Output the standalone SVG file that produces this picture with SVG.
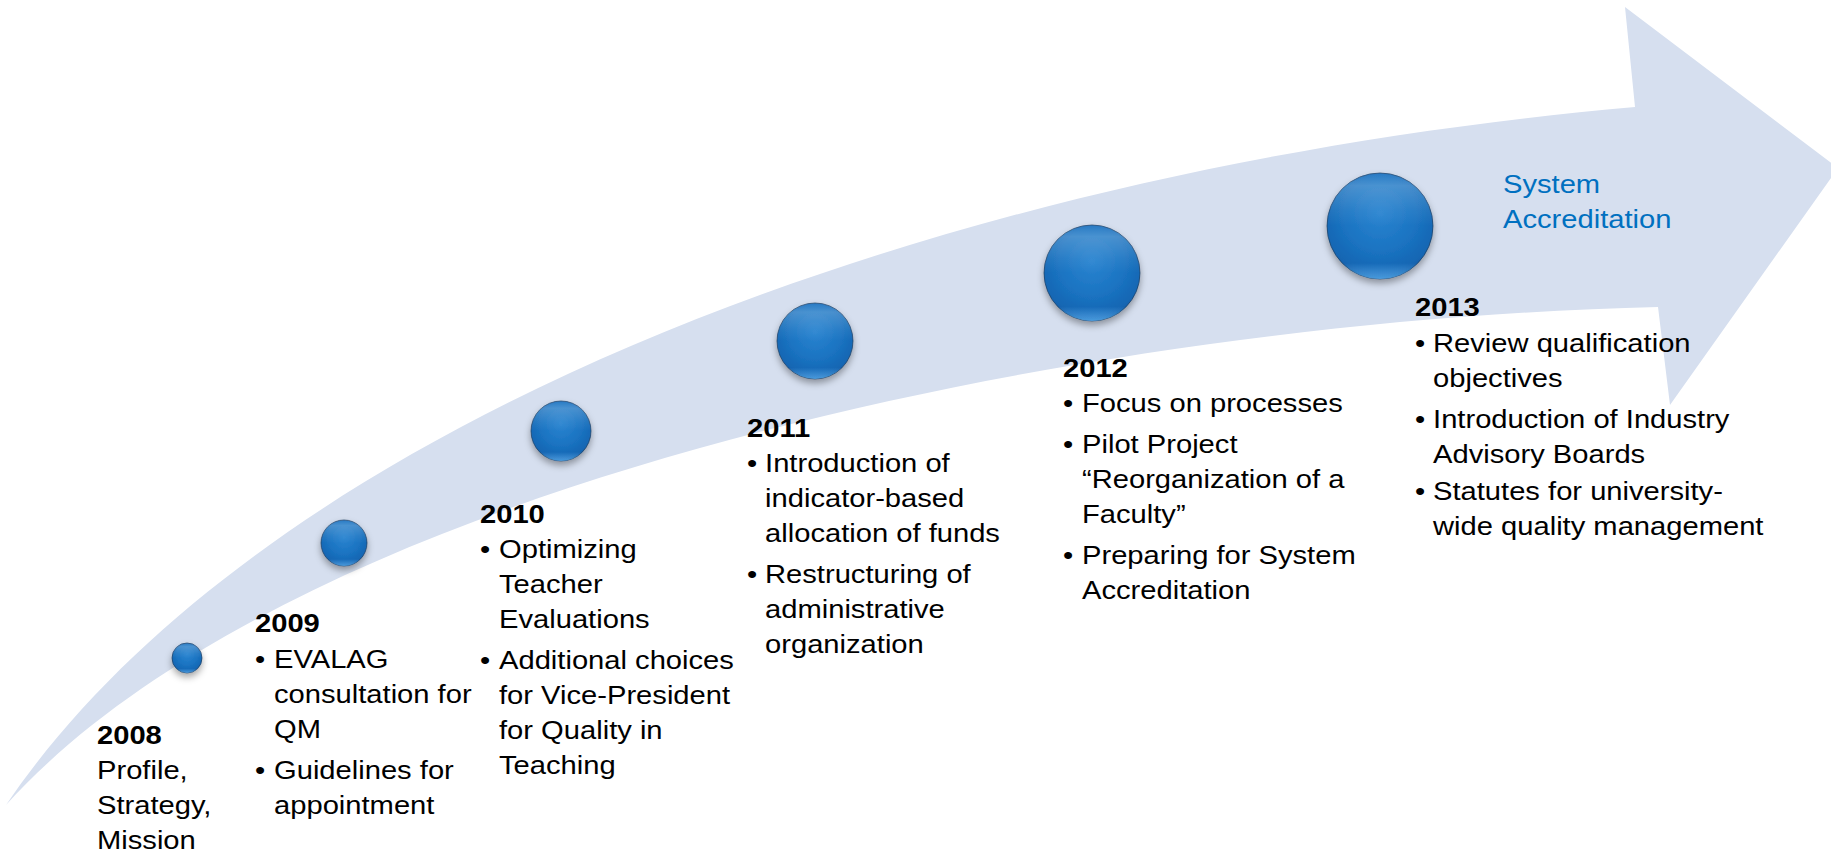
<svg xmlns="http://www.w3.org/2000/svg" width="1831" height="853" viewBox="0 0 1831 853">
<defs>
<radialGradient id="ball" cx="50%" cy="38%" r="62%">
<stop offset="0" stop-color="#2a84d0"/>
<stop offset="0.55" stop-color="#1b74c2"/>
<stop offset="0.9" stop-color="#1466b3"/>
<stop offset="1" stop-color="#0f5ea6"/>
</radialGradient>
<linearGradient id="gloss" x1="0" y1="0" x2="0" y2="1">
<stop offset="0" stop-color="#ffffff" stop-opacity="0.05"/>
<stop offset="0.12" stop-color="#ffffff" stop-opacity="0.2"/>
<stop offset="0.35" stop-color="#ffffff" stop-opacity="0.06"/>
<stop offset="0.5" stop-color="#ffffff" stop-opacity="0"/>
<stop offset="0.85" stop-color="#5fb0f0" stop-opacity="0"/>
<stop offset="1" stop-color="#5fb0f0" stop-opacity="0.75"/>
</linearGradient>
<filter id="sh" x="-40%" y="-40%" width="180%" height="190%">
<feDropShadow dx="0" dy="4" stdDeviation="3.5" flood-color="#000" flood-opacity="0.35"/>
</filter>
</defs>
<style>
.t{font-family:"Liberation Sans",Arial,sans-serif;font-size:26.5px;fill:#000}
.y{font-weight:bold}
.blue{fill:#0070c0}
.ball{fill:url(#ball);stroke:#1c3c60;stroke-opacity:0.7;stroke-width:1;filter:url(#sh)}
.gl{fill:url(#gloss)}
</style>
<rect width="1831" height="853" fill="#ffffff"/>
<g id="arrow">
<path d="M 6 805 C 260 430 920 170 1635 107 L 1625 7 L 1838 168 L 1670 405 L 1658 307 C 1100 320 300 480 6 805 Z" fill="#d6dfef"/>
</g>
<g id="connectors"></g>
<g id="n2008">
<circle class="ball" cx="187" cy="658" r="15"/>
<circle class="gl" cx="187" cy="658" r="15"/>
<g transform="translate(97,0) scale(1.1,1)">
<text class="t y" x="0" y="744">2008</text>
<text class="t" x="0" y="779">Profile,</text>
<text class="t" x="0" y="814">Strategy,</text>
<text class="t" x="0" y="849">Mission</text>
</g>
</g>
<g id="n2009">
<circle class="ball" cx="344" cy="543" r="23"/>
<circle class="gl" cx="344" cy="543" r="23"/>
<g transform="translate(255,0) scale(1.1,1)">
<text class="t y" x="0" y="632">2009</text>
<text class="t" x="0" y="668">•</text>
<text class="t" x="17.3" y="668">EVALAG</text>
<text class="t" x="17.3" y="703">consultation for</text>
<text class="t" x="17.3" y="738">QM</text>
<text class="t" x="0" y="779">•</text>
<text class="t" x="17.3" y="779">Guidelines for</text>
<text class="t" x="17.3" y="814">appointment</text>
</g>
</g>
<g id="n2010">
<circle class="ball" cx="561" cy="431" r="30"/>
<circle class="gl" cx="561" cy="431" r="30"/>
<g transform="translate(480,0) scale(1.1,1)">
<text class="t y" x="0" y="523">2010</text>
<text class="t" x="0" y="558">•</text>
<text class="t" x="17.3" y="558">Optimizing</text>
<text class="t" x="17.3" y="593">Teacher</text>
<text class="t" x="17.3" y="628">Evaluations</text>
<text class="t" x="0" y="669">•</text>
<text class="t" x="17.3" y="669">Additional choices</text>
<text class="t" x="17.3" y="704">for Vice-President</text>
<text class="t" x="17.3" y="739">for Quality in</text>
<text class="t" x="17.3" y="774">Teaching</text>
</g>
</g>
<g id="n2011">
<circle class="ball" cx="815" cy="341" r="38"/>
<circle class="gl" cx="815" cy="341" r="38"/>
<g transform="translate(747,0) scale(1.1,1)">
<text class="t y" x="0" y="437">2011</text>
<text class="t" x="0" y="472">•</text>
<text class="t" x="16.4" y="472">Introduction of</text>
<text class="t" x="16.4" y="507">indicator-based</text>
<text class="t" x="16.4" y="542">allocation of funds</text>
<text class="t" x="0" y="583">•</text>
<text class="t" x="16.4" y="583">Restructuring of</text>
<text class="t" x="16.4" y="618">administrative</text>
<text class="t" x="16.4" y="653">organization</text>
</g>
</g>
<g id="n2012">
<circle class="ball" cx="1092" cy="273" r="48"/>
<circle class="gl" cx="1092" cy="273" r="48"/>
<g transform="translate(1063,0) scale(1.1,1)">
<text class="t y" x="0" y="377">2012</text>
<text class="t" x="0" y="412">•</text>
<text class="t" x="17.3" y="412">Focus on processes</text>
<text class="t" x="0" y="453">•</text>
<text class="t" x="17.3" y="453">Pilot Project</text>
<text class="t" x="17.3" y="488">“Reorganization of a</text>
<text class="t" x="17.3" y="523">Faculty”</text>
<text class="t" x="0" y="564">•</text>
<text class="t" x="17.3" y="564">Preparing for System</text>
<text class="t" x="17.3" y="599">Accreditation</text>
</g>
</g>
<g id="n2013">
<circle class="ball" cx="1380" cy="226" r="53"/>
<circle class="gl" cx="1380" cy="226" r="53"/>
<g transform="translate(1415,0) scale(1.1,1)">
<text class="t y" x="0" y="316">2013</text>
<text class="t" x="0" y="352">•</text>
<text class="t" x="16.4" y="352">Review qualification</text>
<text class="t" x="16.4" y="387">objectives</text>
<text class="t" x="0" y="428">•</text>
<text class="t" x="16.4" y="428">Introduction of Industry</text>
<text class="t" x="16.4" y="463">Advisory Boards</text>
<text class="t" x="0" y="500">•</text>
<text class="t" x="16.4" y="500">Statutes for university-</text>
<text class="t" x="16.4" y="535">wide quality management</text>
</g>
</g>
<g id="goal">
<g transform="translate(1503,0) scale(1.1,1)">
<text class="t blue" x="0" y="193">System</text>
<text class="t blue" x="0" y="228">Accreditation</text>
</g>
</g>
</svg>
